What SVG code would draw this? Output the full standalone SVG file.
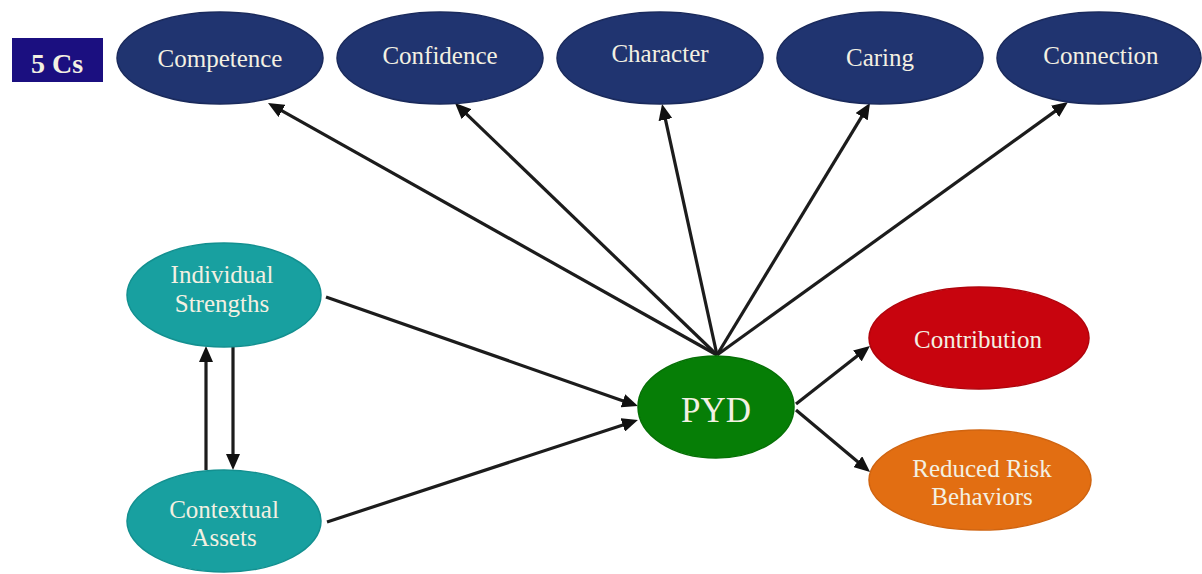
<svg xmlns="http://www.w3.org/2000/svg" width="1202" height="574" viewBox="0 0 1202 574">
  <defs>
    <style>
      .lbl { font-family: "Liberation Serif", "Times New Roman", serif; font-size: 25px; fill: #f3f0e2; text-anchor: middle; }
      .navy { fill: #203470; stroke: #1a2a5c; stroke-width: 1.5; }
      .teal { fill: #18a0a0; stroke: #139090; stroke-width: 1.5; }
      .green { fill: #067e06; stroke: #057005; stroke-width: 1.5; }
      .red { fill: #c8040e; stroke: #b0040c; stroke-width: 1.5; }
      .orange { fill: #e26e12; stroke: #d06410; stroke-width: 1.5; }
      .edge { stroke: #1c1c1c; stroke-width: 3.2; fill: none; marker-end: url(#head); }
    </style>
    <marker id="head" markerUnits="userSpaceOnUse" markerWidth="18" markerHeight="14" refX="5" refY="7" orient="auto">
      <path d="M0,0 L16,7 L0,14 z" fill="#111"/>
    </marker>
  </defs>
  <rect width="1202" height="574" fill="#ffffff"/>

  <!-- connectors: line ends sit 11px short of each arrow tip -->
  <g id="connectors">
    <line class="edge" x1="717" y1="355" x2="277.6" y2="108.4"/>
    <line class="edge" x1="717" y1="355" x2="462.9" y2="110.6"/>
    <line class="edge" x1="717" y1="355" x2="664.4" y2="114.7"/>
    <line class="edge" x1="717" y1="355" x2="864.3" y2="112.4"/>
    <line class="edge" x1="717" y1="355" x2="1059.1" y2="108.4"/>
    <line class="edge" x1="326" y1="297" x2="627.6" y2="402.4"/>
    <line class="edge" x1="327" y1="522" x2="627.5" y2="423.4"/>
    <line class="edge" x1="796" y1="404" x2="861.3" y2="352.8"/>
    <line class="edge" x1="796" y1="410" x2="861.6" y2="464.9"/>
    <line class="edge" x1="206" y1="470" x2="206" y2="357"/>
    <line class="edge" x1="233" y1="346" x2="233" y2="459"/>
  </g>

  <!-- legend tag -->
  <g id="five-cs">
    <rect x="12" y="38" width="91" height="44" fill="#1b0f80"/>
    <text x="57" y="73" font-family="Liberation Serif, serif" font-size="28" font-weight="bold" fill="#f3f0e2" text-anchor="middle">5 Cs</text>
  </g>

  <!-- the five Cs -->
  <g id="competence">
    <ellipse class="navy" cx="220" cy="58" rx="103" ry="46"/>
    <text class="lbl" x="220" y="67">Competence</text>
  </g>
  <g id="confidence">
    <ellipse class="navy" cx="440" cy="58" rx="103" ry="46"/>
    <text class="lbl" x="440" y="64">Confidence</text>
  </g>
  <g id="character">
    <ellipse class="navy" cx="660" cy="58" rx="103" ry="46"/>
    <text class="lbl" x="660" y="62">Character</text>
  </g>
  <g id="caring">
    <ellipse class="navy" cx="880" cy="58" rx="103" ry="46"/>
    <text class="lbl" x="880" y="66">Caring</text>
  </g>
  <g id="connection">
    <ellipse class="navy" cx="1099" cy="58" rx="102" ry="46"/>
    <text class="lbl" x="1101" y="64">Connection</text>
  </g>

  <!-- inputs -->
  <g id="individual-strengths">
    <ellipse class="teal" cx="224" cy="295" rx="97" ry="52"/>
    <text class="lbl" x="222" y="283">Individual</text>
    <text class="lbl" x="222" y="312">Strengths</text>
  </g>
  <g id="contextual-assets">
    <ellipse class="teal" cx="224" cy="521" rx="97" ry="51"/>
    <text class="lbl" x="224" y="518">Contextual</text>
    <text class="lbl" x="224" y="546">Assets</text>
  </g>

  <!-- centre -->
  <g id="pyd">
    <ellipse class="green" cx="716" cy="407" rx="78" ry="51"/>
    <text x="716" y="422" font-family="Liberation Serif, serif" font-size="35" fill="#f3f0e2" text-anchor="middle">PYD</text>
  </g>

  <!-- outcomes -->
  <g id="contribution">
    <ellipse class="red" cx="979" cy="338" rx="110" ry="51"/>
    <text class="lbl" x="978" y="348">Contribution</text>
  </g>
  <g id="reduced-risk">
    <ellipse class="orange" cx="980" cy="480" rx="111" ry="50"/>
    <text class="lbl" x="982" y="477">Reduced Risk</text>
    <text class="lbl" x="982" y="505">Behaviors</text>
  </g>
</svg>
